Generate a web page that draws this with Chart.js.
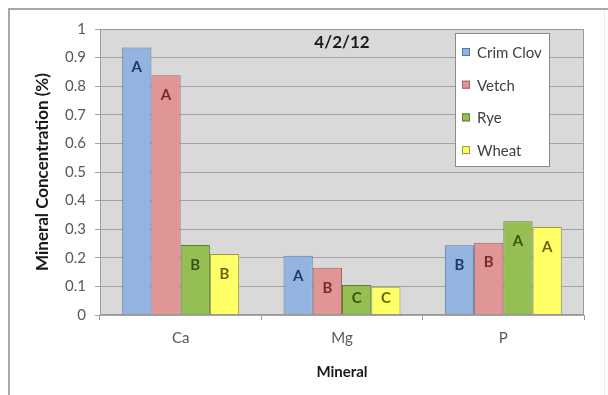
<!DOCTYPE html>
<html>
<head>
<meta charset="utf-8">
<title>Mineral Concentration 4/2/12</title>
<script src="https://cdn.jsdelivr.net/npm/chart.js@4"></script>
<style>
  html, body { margin: 0; padding: 0; background: #ffffff; }
  #wrap { width: 608px; height: 395px; }
</style>
</head>
<body>
<div id="wrap"><canvas id="chart" width="608" height="395"></canvas></div>
<script>
// Categories and series values
const minerals = ['Ca', 'Mg', 'P'];
const crimClov = [0.935, 0.207, 0.244];
const vetch    = [0.838, 0.165, 0.253];
const rye      = [0.245, 0.105, 0.328];
const wheat    = [0.213, 0.099, 0.308];

// Significance letters written on each bar
const crimClovLetters = ['A', 'A', 'B'];
const vetchLetters    = ['A', 'B', 'B'];
const ryeLetters      = ['B', 'C', 'A'];
const wheatLetters    = ['B', 'C', 'A'];

const seriesNames = ['Crim Clov', 'Vetch', 'Rye', 'Wheat'];
const chartTitle = '4/2/12';
const yTitle = 'Mineral Concentration (%)';
const xTitle = 'Mineral';

const FONT = 'Lato, "Liberation Sans", sans-serif';

const fills   = ['#93b4de', '#e09596', '#95bf52', '#ffff66'];
const borders = ['#5a7aa6', '#a66364', '#5f7f2c', '#9c9a3c'];
const letterColors = ['#1f3a66', '#7a2a2c', '#3a5212', '#6a6410'];

const allSeries  = [crimClov, vetch, rye, wheat];
const allLetters = [crimClovLetters, vetchLetters, ryeLetters, wheatLetters];

// Frame, grey plot background and plot border
const backdrop = {
  id: 'backdrop',
  beforeDraw(chart) {
    const { ctx, chartArea: a } = chart;
    ctx.save();
    ctx.fillStyle = '#ffffff';
    ctx.fillRect(0, 0, chart.width, chart.height);
    // outer frame
    ctx.strokeStyle = '#a8a8a8';
    ctx.lineWidth = 2;
    ctx.beginPath();
    ctx.moveTo(9, 400);
    ctx.lineTo(9, 9);
    ctx.lineTo(608, 9);
    ctx.stroke();
    ctx.strokeStyle = '#ececec';
    ctx.lineWidth = 1;
    ctx.beginPath();
    ctx.moveTo(604.5, 10);
    ctx.lineTo(604.5, 400);
    ctx.stroke();
    // plot area fill
    ctx.fillStyle = '#d9d9d9';
    ctx.fillRect(a.left, a.top, a.right - a.left, a.bottom - a.top);
    ctx.restore();
  },
  afterDraw(chart) {
    const { ctx, chartArea: a } = chart;
    ctx.save();
    ctx.strokeStyle = '#9a9a9a';
    ctx.lineWidth = 1;
    ctx.strokeRect(a.left + 0.5, a.top + 0.5, a.right - a.left - 1, a.bottom - a.top - 1);
    ctx.restore();
  }
};

// Letters near the top of every bar (kept inside short bars)
const barLetters = {
  id: 'barLetters',
  afterDatasetsDraw(chart) {
    const { ctx } = chart;
    ctx.save();
    ctx.font = 'bold 15px ' + FONT;
    ctx.textAlign = 'center';
    ctx.textBaseline = 'middle';
    chart.data.datasets.forEach((ds, di) => {
      const meta = chart.getDatasetMeta(di);
      ctx.fillStyle = letterColors[di];
      meta.data.forEach((bar, i) => {
        const h = bar.base - bar.y;
        const dy = Math.min(20, h * 0.43);
        ctx.fillText(allLetters[di][i], bar.x, bar.y + dy);
      });
    });
    ctx.restore();
  }
};

// Title inside the plot and boxed legend at upper right
const overlay = {
  id: 'overlay',
  afterDraw(chart) {
    const { ctx, chartArea: a } = chart;
    ctx.save();
    ctx.fillStyle = '#1a1a1a';
    ctx.font = 'bold 17px ' + FONT;
    ctx.textAlign = 'center';
    ctx.textBaseline = 'middle';
    ctx.fillText(chartTitle, (a.left + a.right) / 2, a.top + 14);

    const bx = a.right - 129, by = a.top + 4, bw = 95, bh = 134;
    ctx.fillStyle = '#ffffff';
    ctx.fillRect(bx, by, bw, bh);
    ctx.strokeStyle = '#8a8a8a';
    ctx.lineWidth = 1;
    ctx.strokeRect(bx + 0.5, by + 0.5, bw - 1, bh - 1);

    ctx.font = '15px ' + FONT;
    ctx.textAlign = 'left';
    chart.data.datasets.forEach((ds, i) => {
      const cy = by + 19 + i * 32.7;
      ctx.fillStyle = ds.backgroundColor;
      ctx.fillRect(bx + 7, cy - 4, 8, 8);
      ctx.strokeStyle = ds.borderColor;
      ctx.strokeRect(bx + 7.5, cy - 3.5, 7, 7);
      ctx.fillStyle = '#404040';
      ctx.fillText(ds.label, bx + 22, cy + 1);
    });
    ctx.restore();
  }
};

new Chart(document.getElementById('chart'), {
  type: 'bar',
  data: {
    labels: minerals,
    datasets: allSeries.map((vals, i) => ({
      label: seriesNames[i],
      data: vals,
      backgroundColor: fills[i],
      borderColor: borders[i],
      borderWidth: 1,
      categoryPercentage: 0.725,
      barPercentage: 1.0
    }))
  },
  options: {
    responsive: false,
    animation: false,
    layout: { padding: { top: 29, right: 24, left: 0, bottom: 0 } },
    plugins: {
      legend: { display: false },
      tooltip: { enabled: false },
      title: { display: false }
    },
    scales: {
      x: {
        offset: true,
        afterFit(scale) { scale.height = 80; },
        grid: {
          offset: true,
          drawOnChartArea: false,
          drawTicks: true,
          tickLength: 5,
          color: '#9a9a9a'
        },
        border: { display: false },
        ticks: {
          color: '#595959',
          padding: 9,
          font: { family: FONT, size: 15 }
        },
        title: {
          display: true,
          text: xTitle,
          color: '#1a1a1a',
          font: { family: FONT, size: 15, weight: 'bold' },
          padding: { top: 0, bottom: 14 }
        }
      },
      y: {
        min: 0,
        max: 1,
        afterFit(scale) { scale.width = 100; },
        grid: {
          color: '#a3a3a3',
          drawTicks: true,
          tickLength: 5
        },
        border: { display: false },
        ticks: {
          stepSize: 0.1,
          color: '#595959',
          padding: 9,
          font: { family: FONT, size: 15 },
          callback: v => String(parseFloat(v.toFixed(1)))
        },
        title: {
          display: true,
          text: yTitle,
          color: '#1a1a1a',
          font: { family: FONT, size: 17, weight: 'bold' },
          padding: { top: 32, bottom: 0 }
        }
      }
    }
  },
  plugins: [backdrop, barLetters, overlay]
});
</script>
</body>
</html>
